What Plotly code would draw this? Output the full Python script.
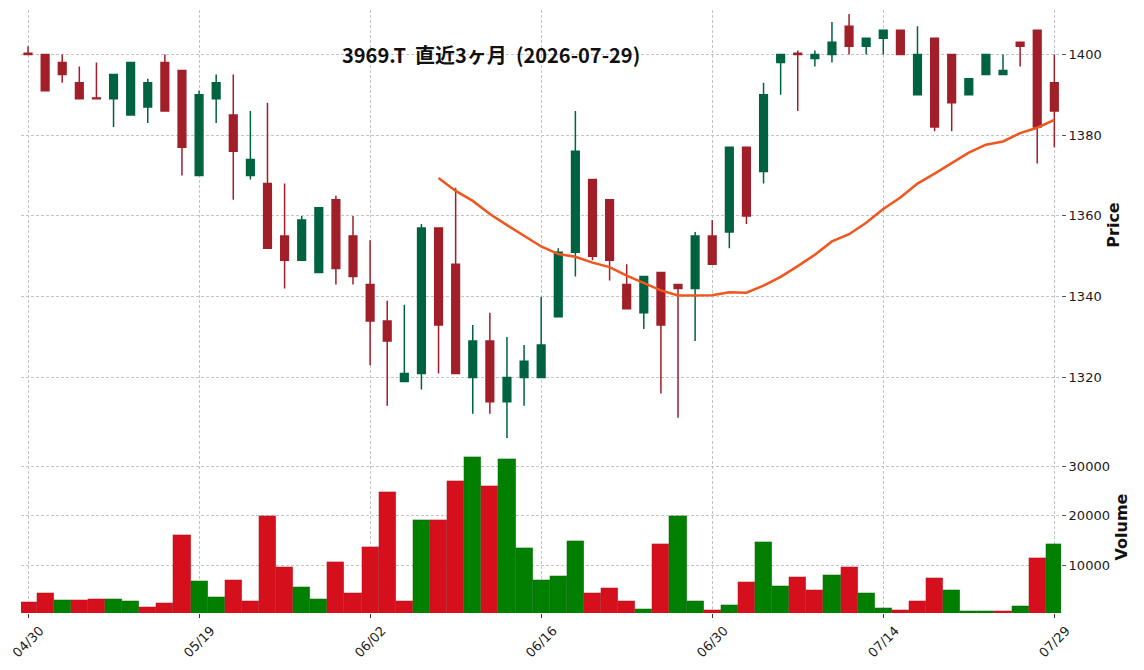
import pandas as pd
import plotly.graph_objects as go

# ---------------- data ----------------
tick_labels = ["04/30", "05/19", "06/02", "06/16", "06/30", "07/14", "07/29"]
tick_step = 10  # trading days between labelled ticks

opens = [1400.3, 1400, 1398, 1393, 1389.2, 1389, 1385, 1387, 1398, 1396,
         1370, 1389, 1385, 1370, 1368, 1355, 1349, 1346, 1364, 1355,
         1343, 1334, 1319, 1321, 1357, 1348, 1320, 1329, 1314, 1320,
         1320, 1335, 1351, 1369, 1364, 1343, 1336, 1346, 1343, 1342,
         1355, 1356, 1377, 1371, 1398, 1400.3, 1399, 1400, 1407, 1402,
         1404, 1406, 1390, 1404, 1400, 1390, 1395, 1395, 1403, 1406,
         1393]
highs = [1402, 1400, 1400, 1397, 1398, 1395, 1398, 1394, 1400, 1396,
         1391, 1395, 1395, 1386, 1388, 1368, 1360, 1362, 1365, 1360,
         1354, 1339, 1338, 1358, 1357, 1367, 1333, 1336, 1330, 1328,
         1340, 1352, 1386, 1369, 1364, 1348, 1345, 1346, 1343, 1356,
         1359, 1377, 1377, 1393, 1400, 1401, 1401, 1408, 1410, 1404,
         1406, 1406, 1407, 1404, 1400, 1394, 1400, 1400, 1403, 1406,
         1400]
lows = [1399.8, 1391, 1393, 1389, 1389, 1382, 1385, 1383, 1386, 1370,
        1370, 1383, 1364, 1369, 1352, 1342, 1349, 1346, 1343, 1343,
        1323, 1313, 1319, 1317, 1321, 1321, 1311, 1311, 1305, 1313,
        1320, 1335, 1345, 1349, 1344, 1337, 1332, 1316, 1310, 1329,
        1348, 1352, 1358, 1368, 1390, 1386, 1397, 1398, 1400, 1400,
        1400, 1400, 1390, 1381, 1381, 1390, 1395, 1395, 1397, 1373,
        1377]
closes = [1400, 1391, 1395, 1389, 1389, 1395, 1398, 1393, 1386, 1377,
          1390, 1393, 1376, 1374, 1352, 1349, 1359, 1362, 1347, 1345,
          1334, 1329, 1321, 1357, 1333, 1321, 1329, 1314, 1320, 1324,
          1328, 1351, 1376, 1350, 1349, 1337, 1345, 1333, 1342, 1355,
          1348, 1377, 1360, 1390, 1400, 1400, 1400, 1403, 1402, 1404,
          1406, 1400, 1400, 1382, 1388, 1394, 1400, 1396, 1402, 1382,
          1386]
volumes = [2700, 4500, 3100, 3100, 3300, 3300, 2900, 1700, 2500, 16100,
           6900, 3700, 7100, 2900, 20000, 9700, 5700, 3300, 10700, 4500,
           13700, 24800, 2900, 19200, 19200, 27000, 31800, 26000, 31400, 13500,
           7100, 7900, 14900, 4500, 5500, 2900, 1300, 14300, 20000, 2900,
           1100, 2100, 6700, 14700, 5900, 7700, 5100, 8100, 9700, 4500,
           1500, 1100, 2900, 7500, 5100, 900, 900, 900, 1900, 11500,
           14300]
ma_window = 25
price_ticks = [1320, 1340, 1360, 1380, 1400]
volume_ticks = [10000, 20000, 30000]

# ---------------- derived ----------------
idx = list(range(len(closes)))
ma = pd.Series(closes).rolling(ma_window).mean()
vol_colors = []
for i, c in enumerate(closes):
    if i > 0 and c > closes[i - 1]:
        vol_colors.append("#007F00")
    else:
        vol_colors.append("#D5101C")
tickvals = idx[::tick_step]

UP = "#006340"
DOWN = "#A01F29"
GRID = "#C4C4C4"
TICKFONT = dict(family="DejaVu Sans", size=13, color="#1a1a1a")

fig = go.Figure()
fig.add_trace(go.Candlestick(
    x=idx, open=opens, high=highs, low=lows, close=closes,
    increasing=dict(line=dict(color=UP, width=1.5), fillcolor=UP),
    decreasing=dict(line=dict(color=DOWN, width=1.5), fillcolor=DOWN),
    whiskerwidth=0, xaxis="x", yaxis="y", showlegend=False,
))
fig.add_trace(go.Scatter(
    x=idx, y=ma, mode="lines", line=dict(color="#F0561D", width=2.5),
    xaxis="x", yaxis="y", showlegend=False,
))
fig.add_trace(go.Bar(
    x=idx, y=volumes, marker=dict(color=vol_colors, line=dict(width=0.4, color="rgba(0,0,0,0.25)")),
    xaxis="x2", yaxis="y2", showlegend=False,
))

W, H = 1144, 670
L, R, T, B = 21, 83, 10, 57
plot_h = H - T - B
price_bottom_px = 440
vol_top_px = 441
price_dom = [(H - B - price_bottom_px) / plot_h, 1]
vol_dom = [0, (H - B - vol_top_px) / plot_h]

xr = [-0.41, len(idx) - 1 + 0.39]
grid_common = dict(showgrid=True, gridcolor=GRID, gridwidth=0.8, griddash="3px,2px",
                   zeroline=False, showline=False, automargin=False)

fig.update_layout(
    width=W, height=H,
    margin=dict(l=L, r=R, t=T, b=B, autoexpand=False),
    paper_bgcolor="white", plot_bgcolor="white",
    bargap=0, boxgap=0.36,
    xaxis=dict(domain=[0, 1], anchor="y", range=xr, tickvals=tickvals,
               showticklabels=False, ticks="", rangeslider=dict(visible=False),
               **grid_common),
    xaxis2=dict(domain=[0, 1], anchor="y2", matches="x", range=xr, tickvals=tickvals,
                ticktext=tick_labels, tickangle=-45, ticks="outside", ticklen=4,
                tickcolor="#333", tickfont=TICKFONT, ticklabeloverflow="allow",
                ticklabelshift=12,
                **grid_common),
    yaxis=dict(domain=price_dom, anchor="x", side="right", range=[1304.5, 1411],
               tickvals=price_ticks, ticktext=[str(v) for v in price_ticks],
               ticks="outside", ticklen=4,
               tickcolor="#555", tickfont=TICKFONT,
               title=dict(text="Price", font=dict(family="DejaVu Sans", size=16, color="#111", weight="bold"),
                          standoff=7),
               **grid_common),
    yaxis2=dict(domain=vol_dom, anchor="x2", side="right", range=[512, 35015],
                tickvals=volume_ticks, ticktext=[str(v) for v in volume_ticks],
                ticks="outside", ticklen=4,
                tickcolor="#555", tickfont=TICKFONT,
                title=dict(text="Volume", font=dict(family="DejaVu Sans", size=16, color="#111", weight="bold"),
                           standoff=6),
                **grid_common),
    annotations=[dict(
        text="3969.T  直近3ヶ月  (2026-07-29)", xref="paper", yref="paper",
        x=(491 - L) / (W - L - R), y=(H - B - 55) / plot_h,
        xanchor="center", yanchor="middle", showarrow=False,
        font=dict(family="Noto Sans CJK JP", size=20, color="#111", weight="bold"),
    )],
)

fig.write_html("out.html")
